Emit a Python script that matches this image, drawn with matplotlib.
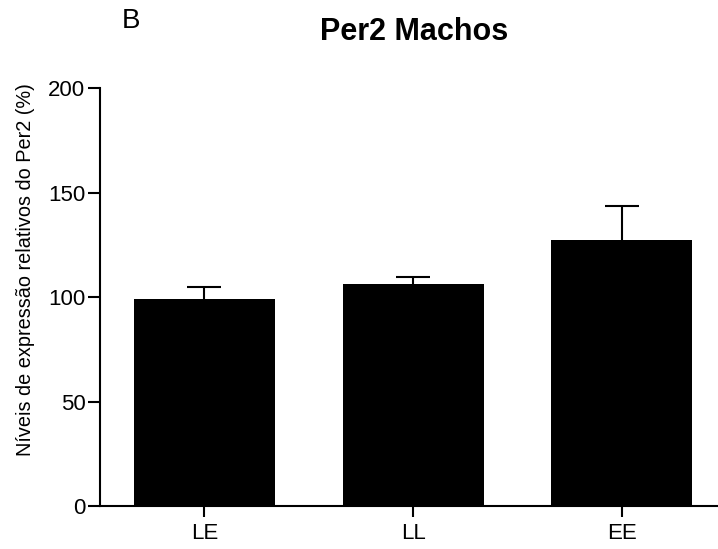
import numpy as np
import matplotlib.pyplot as plt

plt.rcParams['font.family'] = ['Liberation Sans', 'DejaVu Sans']

grupos = ["LE", "LL", "EE"]
medias = [98.9, 106.0, 127.1]
erros = [5.9, 3.7, 16.3]

fig = plt.figure(figsize=(7.18, 5.49), dpi=100)
ax = fig.add_axes([0.1393, 0.0783, 0.8607, 0.7614])

x = np.arange(len(grupos))
ax.bar(x, medias, width=0.675, color="black", zorder=2)
# so a barra de erro superior
_, caps, _ = ax.errorbar(x, medias, yerr=[np.zeros(len(erros)), erros], fmt="none",
                         ecolor="black", elinewidth=1.5, capsize=12, capthick=1.5, zorder=1)
caps[0].remove()

ax.set_xlim(-0.5, 2.46)
ax.set_ylim(0, 200)
ax.set_yticks([0, 50, 100, 150, 200])
ax.set_xticks(x)
ax.set_xticklabels(grupos)

for s in ["top", "right"]:
    ax.spines[s].set_visible(False)
ax.spines["left"].set_linewidth(1.5)
ax.spines["bottom"].set_linewidth(1.5)
ax.tick_params(axis="y", length=8.5, width=1.5, labelsize=16, pad=2)
ax.tick_params(axis="x", length=8, width=1.5, labelsize=16, pad=4)

ax.set_ylabel("Níveis de expressão relativos do Per2 (%)", fontsize=14.3)
ax.yaxis.set_label_coords(-0.105, 0.565)
fig.text(0.577, 0.942, "Per2 Machos", fontsize=22, fontweight="bold", ha="center", va="center")
fig.text(0.183, 0.962, "B", fontsize=20, ha="center", va="center")

fig.savefig("out.png", dpi=100)
